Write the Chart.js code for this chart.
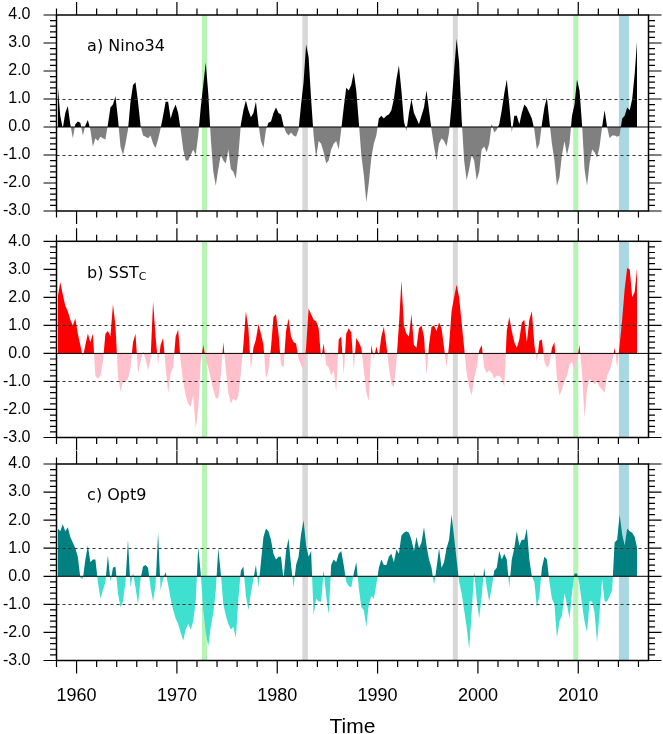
<!DOCTYPE html>
<html>
<head>
<meta charset="utf-8">
<script src="https://cdn.jsdelivr.net/npm/chart.js@4"></script>
<style>
  body { margin: 0; background: #fff; }
  #wrap { position: relative; width: 663px; height: 734px; }
  canvas { position: absolute; left: 0; top: 0; }
</style>
</head>
<body>
<div id="wrap">
  <canvas id="panelA" width="663" height="734"></canvas>
  <canvas id="panelB" width="663" height="734"></canvas>
  <canvas id="panelC" width="663" height="734"></canvas>
</div>
<script>
// quarterly values, 1958 Q1 .. 2015 Q4 (one row per year)
const startYear = 1958;
const perYear = 4;

const nino34 = [
  1.5, 0.4, -0.05, 0.5,   0.75, 0.1, -0.4, 0.1,   0.2, 0.15, -0.3, 0.05,
  0.25, -0.1, -0.7, -0.4, -0.5, -0.35, -0.4, -0.45, 0.1, 0.7, 0.8, 1.1,
  0.3, -0.7, -1.0, -0.6,  -0.1, 0.9, 1.5, 1.6,    0.9, 0.05, -0.3, -0.35,
  -0.4, -0.3, -0.6, -0.75, -0.45, -0.05, 0.4, 0.9, 0.9, 0.3, 0.6, 0.8,
  0.5, -0.1, -0.8, -1.2,  -1.2, -1.0, -0.8, -1.0, -0.3, 0.7, 1.5, 2.3,
  1.2, -0.4, -1.6, -2.1,  -1.5, -1.0, -1.2, -1.3, -0.8, -1.5, -1.6, -1.85,
  -1.0, 0.1, 0.6, 0.95,   0.6, 0.35, 0.5, 0.9,    0.1, -0.5, -0.75, -0.1,
  0.15, 0.2, 0.5, 0.7,    0.5, 0.45, 0.05, -0.2,  -0.3, -0.2, -0.3, -0.35,
  -0.1, 0.8, 1.6, 2.95,   2.5, 1.0, -0.3, -1.1,   -0.5, -0.6, -0.9, -1.3,
  -1.2, -0.8, -0.6, -0.5, -0.8, -0.1, 0.7, 1.4,   1.3, 1.5, 1.95, 1.3,
  0.2, -1.0, -1.7, -2.7,  -2.0, -1.1, -0.6, -0.3, 0.3, 0.4, 0.3, 0.4,
  0.45, 0.6, 1.0, 1.7,    2.2, 1.3, 0.2, -0.15,   0.5, 1.0, 0.5, 0.3,
  0.1, 0.4, 0.7, 1.3,     0.6, -0.1, -0.7, -1.2,  -0.6, -0.4, -0.5, -0.7,
  -0.2, 0.8, 2.0, 3.15,   2.3, 0.3, -1.2, -1.9,   -1.5, -1.0, -1.2, -1.9,
  -1.6, -0.8, -0.7, -0.9, -0.6, 0.1, -0.2, -0.1,  0.1, 0.6, 1.2, 1.7,
  0.8, -0.2, 0.4, 0.4,    0.1, 0.5, 0.8, 0.7,     0.5, 0.3, -0.1, -0.8,
  -0.6, 0.1, 0.7, 1.05,   0.2, -0.6, -1.2, -2.1,  -1.8, -1.0, -0.5, -1.0,
  -0.6, 0.4, 0.8, 1.7,    1.3, 0.1, -1.5, -2.1,   -1.3, -0.8, -0.9, -1.1,
  -0.7, 0.0, 0.6, 0.0,    -0.4, -0.3, -0.3, -0.35, -0.3, 0.3, 0.4, 0.7,
  0.6, 1.0, 1.9, 3.15
];

const sstc = [
  2.0, 2.55, 2.1, 1.7,    1.5, 1.2, 1.0, 1.25,    0.7, 0.3, -0.15, 0.3,
  0.7, 0.4, 0.7, -0.8,    -0.9, -0.8, -0.3, 0.7,  0.8, 0.6, 1.75, 1.0,
  -0.8, -1.35, -1.0, -1.0, -0.9, -0.5, 0.4, 0.7,  -0.7, -0.3, 0.05, -0.2,
  -0.6, -0.2, 1.85, 0.6,  -0.4, 0.3, 0.55, -0.5,  -1.4, -0.7, -0.5, 0.6,
  0.85, -0.3, -1.0, -1.5, -1.8, -1.9, -1.5, -2.7, -2.0, -0.3, 0.3, -0.2,
  -0.5, -0.9, -1.3, -1.6, -1.6, -0.8, 0.4, -0.6,  -1.4, -1.8, -1.6, -1.7,
  -1.5, -0.7, 0.3, 1.5,   0.9, -0.6, 0.2, 0.5,    1.05, 0.7, 0.3, -0.9,
  -0.6, 0.2, 1.3, 1.4,    0.7, -0.4, -0.5, 0.8,   1.25, 0.6, 0.4, 0.35,
  -0.2, -0.4, -0.6, 0.2,  1.6, 1.4, 1.2, 1.15,    0.9, -0.2, 0.35, -0.4,
  -0.5, -0.8, -0.6, -1.4, 0.5, 0.6, -0.8, 0.7,    0.9, 0.75, -0.6, 0.55,
  0.4, 0.2, -0.6, -1.4,   -1.7, 0.3, -0.2, 0.25,  -0.1, 0.6, 0.95, 0.3,
  -0.5, -1.1, -1.2, -0.3, 1.0, 2.6, 1.0, 0.7,     0.6, 1.4, 0.3, 0.2,
  0.9, 1.0, 0.6, -0.8,    0.3, 0.95, 1.0, 0.8,    1.1, 0.9, 0.2, -0.5,
  0.3, 1.5, 2.0, 2.45,    2.0, 1.1, 0.2, -0.7,    -1.2, -1.5, -0.9, -0.5,
  0.1, 0.3, -0.5, -0.7,   -0.6, -0.7, -0.9, -0.8, -0.8, -0.9, -1.2, 0.8,
  1.3, 0.8, 0.4, 0.2,     0.5, 1.1, 1.2, 0.4,     1.2, 1.5, 0.3, -0.3,
  0.45, 0.5, -0.3, -0.5,  -0.4, 0.2, 0.4, -0.9,   -1.5, -1.3, -1.0, -0.8,
  -0.4, -0.3, -0.6, -0.2, 0.3, -0.7, -2.3, -1.3,  -0.9, -1.0, -1.1, -1.0,
  -1.2, -1.3, -1.4, -0.8, -0.6, -0.3, 0.2, -0.5,  0.3, 1.2, 2.3, 3.05,
  3.0, 2.0, 2.2, 3.1
];

const opt9 = [
  1.7, 1.6, 1.85, 1.6,    1.75, 1.4, 1.2, 1.0,    0.7, -0.05, -0.1, 0.6,
  1.1, 0.5, 0.6, 0.6,     -0.2, -0.8, -0.5, -0.2, 0.75, -0.2, 0.3, 0.35,
  -0.6, -1.1, -0.9, -0.2, 1.3, -0.4, 0.1, -0.4,   -1.0, -0.1, 0.35, 0.4,
  0.3, -0.4, -0.9, -0.3,  1.55, -0.5, -0.1, 0.15, -0.3, -0.8, -1.2, -1.5,
  -1.7, -2.0, -2.3, -1.9, -1.7, -1.9, -1.6, -0.9, 1.05, 0.1, -1.2, -2.0,
  -2.5, -1.8, -1.3, -0.5, 1.0, 0.1, -1.0, -1.4,   -1.7, -1.9, -1.8, -2.2,
  -0.8, 0.2, 0.35, -0.7,  -1.2, -0.6, -0.1, 0.4,  -0.4, 0.5, 1.4, 1.7,
  1.6, 1.3, 0.8, 0.6,     0.7, 0.7, -0.1, 0.9,    1.35, 0.4, -0.4, 0.4,
  0.7, 1.5, 2.0, 1.1,     0.7, 0.9, -1.4, -0.8,   -0.9, -0.9, 0.2, -0.7,
  -1.35, 0.4, 0.6, 0.5,   0.8, 0.9, 0.4, -0.2,    -0.35, -0.4, 0.1, 0.5,
  -0.4, -1.1, -1.2, -1.8, -1.0, -0.7, -0.8, -0.3, 0.3, 0.6, 0.4, 0.4,
  0.7, 0.8, 0.5, 0.95,    0.8, 1.45, 1.55, 1.6,   1.55, 1.3, 0.9, 1.4,
  1.0, 1.2, 1.75, 1.1,    0.6, 0.3, -0.3, 0.3,    1.0, 0.3, 0.5, 1.0,
  1.3, 2.2, 1.4, 0.6,     -0.2, -0.6, -1.2, -1.8, -2.6, -1.3, 0.15, -0.8,
  -1.5, -0.7, 0.3, -0.4,  -0.9, -0.4, 0.2, 0.3,   0.9, 0.6, 0.8, 0.6,
  -0.4, 0.6, 1.0, 1.6,    1.1, 1.3, 1.3, 1.7,     0.6, 0.0, -0.2, -1.1,
  -0.7, 0.3, 0.7, 0.6,    -0.2, -0.8, -1.0, -2.2, -1.6, -1.4, -0.6, -1.0,
  -1.5, -0.6, 0.1, 0.1,   -0.3, -1.0, -1.6, -2.0, -0.9, -0.9, -1.3, -2.35,
  -1.3, -0.1, -0.9, -0.9, -0.7, -0.5, 1.2, 1.3,   2.2, 1.5, 1.1, 1.7,
  1.6, 1.55, 1.4, 1.0
];

const xTicks = [1960, 1970, 1980, 1990, 2000, 2010];
const yTicks = [-3, -2, -1, 0, 1, 2, 3, 4];
const refLines = [-1, 1];

// highlighted events
const eventStart = [1972.5, 1982.5, 1997.5, 2009.5, 2014.05];
const eventEnd   = [1973.0, 1983.05, 1998.0, 2010.0, 2015.05];
const eventKind  = ['green', 'gray', 'gray', 'green', 'blue'];

const bandColor = { green: '#b6f4b4', gray: '#d8d8d8', blue: '#a9d8e2' };

function toPoints(values) {
  return values.map((v, i) => ({ x: startYear + (i + 0.5) / perYear, y: v }));
}

const panelAxes = {
  id: 'panelAxes',
  beforeDatasetsDraw(chart) {
    const { ctx, chartArea: a, scales: { x } } = chart;
    ctx.save();
    eventStart.forEach((s, i) => {
      const x0 = x.getPixelForValue(s);
      const x1 = x.getPixelForValue(eventEnd[i]);
      ctx.fillStyle = bandColor[eventKind[i]];
      ctx.fillRect(x0, a.top, x1 - x0, a.bottom - a.top);
    });
    ctx.restore();
  },
  afterDatasetsDraw(chart, args, opts) {
    const { ctx, chartArea: a, scales: { x, y } } = chart;
    ctx.save();
    ctx.strokeStyle = '#000';

    // zero line
    ctx.lineWidth = 1;
    const y0 = y.getPixelForValue(0);
    ctx.beginPath();
    ctx.moveTo(a.left, y0);
    ctx.lineTo(a.right, y0);
    ctx.stroke();

    // dashed reference lines
    ctx.setLineDash([3, 3]);
    ctx.strokeStyle = '#333';
    refLines.forEach(v => {
      const py = Math.round(y.getPixelForValue(v)) + 0.5;
      ctx.beginPath();
      ctx.moveTo(a.left, py);
      ctx.lineTo(a.right, py);
      ctx.stroke();
    });
    ctx.setLineDash([]);
    ctx.strokeStyle = '#000';

    // ticks, outward on all four sides
    ctx.lineWidth = 1.2;
    ctx.beginPath();
    for (let k = 0; k <= 35; k++) {
      const py = y.getPixelForValue(-3 + k * 0.2);
      const len = k % 5 === 0 ? 13 : 6.5;
      ctx.moveTo(a.left, py); ctx.lineTo(a.left - len, py);
      ctx.moveTo(a.right, py); ctx.lineTo(a.right + len, py);
    }
    for (let yr = 1958; yr <= 2016; yr += 2) {
      const px = x.getPixelForValue(yr);
      const len = yr % 10 === 0 ? 13 : 6.5;
      ctx.moveTo(px, a.top); ctx.lineTo(px, a.top - len);
      ctx.moveTo(px, a.bottom); ctx.lineTo(px, a.bottom + len);
    }
    ctx.stroke();

    // frame
    ctx.lineWidth = 1.5;
    ctx.strokeRect(a.left, a.top, a.right - a.left, a.bottom - a.top);

    // y labels
    ctx.fillStyle = '#000';
    ctx.font = '16px "Liberation Sans", Arial, sans-serif';
    ctx.textAlign = 'right';
    ctx.textBaseline = 'middle';
    yTicks.forEach(v => ctx.fillText(v.toFixed(1), a.left - 26, y.getPixelForValue(v)));

    // x labels and title (bottom panel only)
    if (opts.xLabels) {
      ctx.textAlign = 'center';
      ctx.textBaseline = 'alphabetic';
      ctx.font = '18px "Liberation Sans", Arial, sans-serif';
      xTicks.forEach(t => ctx.fillText(String(t), x.getPixelForValue(t), a.bottom + 40));
      ctx.font = '21px "Liberation Sans", Arial, sans-serif';
      ctx.fillText('Time', (a.left + a.right) / 2, a.bottom + 72);
    }

    // panel label
    ctx.textAlign = 'left';
    ctx.textBaseline = 'alphabetic';
    ctx.font = '16px "DejaVu Sans", sans-serif';
    const tx = x.getPixelForValue(1961.05);
    const ty = y.getPixelForValue(2.7);
    ctx.fillText(opts.title, tx, ty);
    if (opts.sub) {
      const w = ctx.measureText(opts.title).width;
      ctx.font = '11px "DejaVu Sans", sans-serif';
      ctx.fillText(opts.sub, tx + w, ty + 2);
    }
    ctx.restore();
  }
};

function makePanel(id, values, pos, neg, title, sub, padTop, padBottom, xLabels) {
  return new Chart(document.getElementById(id), {
    type: 'line',
    data: {
      datasets: [{
        data: toPoints(values),
        fill: { target: { value: 0 }, above: pos, below: neg },
        borderColor: 'rgba(0,0,0,0)',
        borderWidth: 0,
        pointRadius: 0,
        tension: 0
      }]
    },
    options: {
      responsive: false,
      animation: false,
      devicePixelRatio: 1,
      layout: { padding: { left: 56.5, right: 14.5, top: padTop, bottom: padBottom } },
      scales: {
        x: { type: 'linear', min: 1958, max: 2017, display: false },
        y: { min: -3, max: 4, display: false }
      },
      plugins: {
        legend: { display: false },
        tooltip: { enabled: false },
        panelAxes: { title: title, sub: sub, xLabels: xLabels }
      }
    },
    plugins: [panelAxes]
  });
}

makePanel('panelA', nino34, '#000000', '#808080', 'a) Nino34', '', 15, 523, false);
makePanel('panelB', sstc, '#ff0000', '#ffc0cb', 'b) SST', 'C', 241.3, 296.5, false);
makePanel('panelC', opt9, '#008080', '#40e0d0', 'c) Opt9', '', 464, 73.5, true);
</script>
</body>
</html>
